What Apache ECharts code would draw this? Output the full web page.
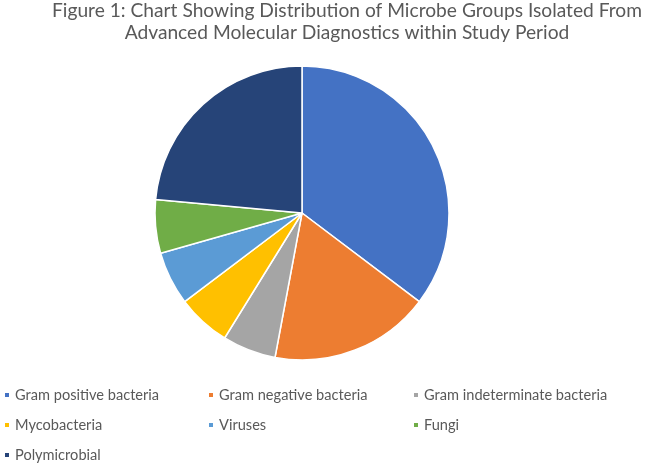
<!DOCTYPE html>
<html><head><meta charset="utf-8">
<script src="https://cdn.jsdelivr.net/npm/echarts@6/dist/echarts.min.js"></script>
<style>html,body{margin:0;padding:0;background:#fff}#c{width:650px;height:465px}</style>
</head><body><div id="c"></div>
<script>
const categories = ["Gram positive bacteria","Gram negative bacteria","Gram indeterminate bacteria","Mycobacteria","Viruses","Fungi","Polymicrobial"];
const values = [6,3,1,1,1,1,4];
const colors = ["#4472C4","#ED7D31","#A5A5A5","#FFC000","#5B9BD5","#70AD47","#264478"];
const titleText = "Figure 1: Chart Showing Distribution of Microbe Groups Isolated From\nAdvanced Molecular Diagnostics within Study Period";

const chart = echarts.init(document.getElementById('c'));
const legendBase = {
  orient: 'vertical', icon: 'rect', itemWidth: 6, itemHeight: 6, itemGap: 14,
  top: 387, padding: 0, selectedMode: false,
  textStyle: {fontFamily: 'Lato', fontSize: 14.6, lineHeight: 16, color: '#595959'}
};
chart.setOption({
  color: colors,
  title: {
    text: titleText, left: 347, top: 0, padding: 0, textAlign: 'center',
    textStyle: {fontFamily: 'Lato', fontSize: 19.2, fontWeight: 'normal', color: '#595959', lineHeight: 22}
  },
  legend: [
    Object.assign({}, legendBase, {left: 3, data: [categories[0], categories[3], categories[6]]}),
    Object.assign({}, legendBase, {left: 207, data: [categories[1], categories[4]]}),
    Object.assign({}, legendBase, {left: 412, data: [categories[2], categories[5]]})
  ],
  series: [{
    type: 'pie', center: [302, 213], radius: 147, startAngle: 90, clockwise: true,
    label: {show: false}, labelLine: {show: false}, animation: false,
    itemStyle: {borderColor: '#fff', borderWidth: 1.5},
    emphasis: {disabled: true},
    data: categories.map((n, i) => ({name: n, value: values[i]}))
  }]
});
</script></body></html>
